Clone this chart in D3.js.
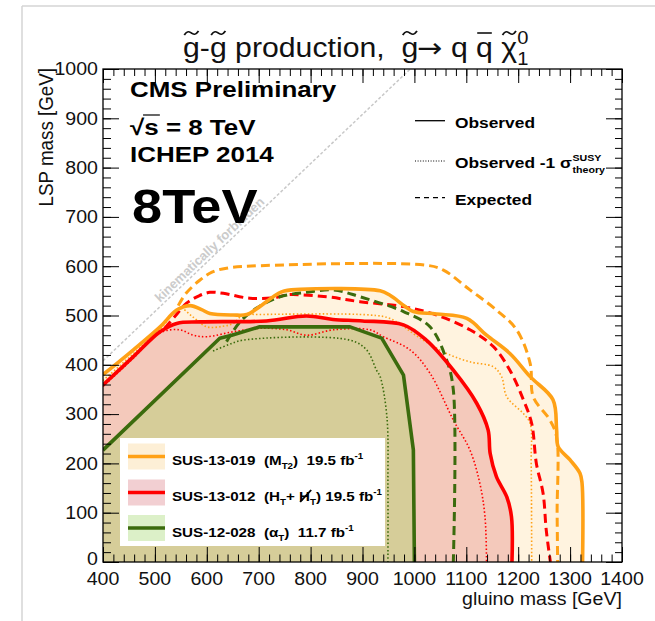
<!DOCTYPE html>
<html>
<head>
<meta charset="utf-8">
<script src="https://cdn.jsdelivr.net/npm/d3@7"></script>
<style>
  html, body { margin: 0; padding: 0; background: #fff; }
  svg { display: block; }
  text { font-family: "Liberation Sans", Arial, Helvetica, sans-serif; white-space: pre; }
</style>
</head>
<body>
<svg id="chart" width="655" height="621"></svg>
<script>
// ---- Exclusion contours (gluino mass, LSP mass) in GeV ----
// SUS-13-019 (MT2)
const mt2Observed = [[400,380],[458,430],[510,477],[542,511],[568,520],[590,512],[606,504],[651,501],[677,502],[702,518],[744,548],[780,553],[934,550],[953,541],[980,520],[998,508],[1043,503],[1101,494],[1139,460],[1184,423],[1223,376],[1267,329],[1274,268],[1277,234],[1300,207],[1319,180],[1323,160],[1324,0]];
const mt2ObservedMinus = [[400,368],[458,422],[510,472],[548,515],[572,498],[600,477],[630,478],[651,484],[670,501],[700,502],[914,501],[953,494],[1011,454],[1062,423],[1107,406],[1152,396],[1168,376],[1178,335],[1210,301],[1223,281],[1225,200],[1226,0]];
const mt2Expected = [[545,520],[560,545],[587,572],[610,588],[638,596],[702,601],[1023,602],[1056,592],[1107,552],[1158,511],[1197,471],[1223,403],[1229,335],[1261,288],[1274,254],[1275,100],[1276,0]];
// SUS-13-012 (HT + MHT)
const htObserved = [[400,359],[458,416],[510,467],[542,484],[587,487],[715,489],[792,499],[843,492],[900,489],[979,481],[1023,450],[1075,389],[1120,322],[1142,268],[1146,220],[1158,173],[1178,132],[1187,92],[1188,0]];
const htObservedMinus = [[400,356],[458,413],[510,465],[548,471],[574,460],[600,457],[651,467],[702,474],[754,471],[792,460],[844,471],[914,471],[940,457],[992,430],[1030,383],[1075,288],[1107,227],[1126,160],[1136,92],[1139,0]];
const htExpected = [[519,474],[540,500],[561,525],[585,540],[606,547],[632,545],[683,535],[735,537],[754,542],[831,538],[895,528],[979,518],[1043,501],[1107,471],[1152,437],[1184,389],[1210,329],[1226,281],[1235,200],[1248,139],[1254,65],[1262,0]];
// SUS-12-028 (alphaT)
const alphaTObserved = [[400,227],[625,454],[648,460],[702,477],[876,477],[937,454],[979,379],[998,227],[1000,0]];
const alphaTObservedMinus = [[612,428],[640,440],[670,450],[876,450],[908,430],[927,389],[934,376],[947,295],[949,150],[949,0]];
const alphaTExpected = [[638,447],[664,487],[696,515],[741,538],[792,547],[844,552],[895,538],[979,508],[1030,477],[1062,410],[1075,349],[1075,0]];
// kinematic limit
const kinematicLine = [[400,408],[992,1000]];

// ---- Axis ticks and labels ----
const xMajorTicks = [400,500,600,700,800,900,1000,1100,1200,1300,1400];
const yMajorTicks = [0,100,200,300,400,500,600,700,800,900,1000];
const xMinorTicks = d3.range(400, 1401, 20);
const yMinorTicks = d3.range(0, 1001, 20);

// ---- Legend entries ----
const analyses = ["SUS-13-019", "SUS-13-012", "SUS-12-028"];
const lumis = ["19.5", "19.5", "11.7"];
const styleNames = ["Observed", "Observed -1 \u03c3", "Expected"];

const ORANGE = "#ffa116", RED = "#ff0000", GREEN = "#3b6b0d";
const SX = 1.12;  // horizontal text stretch

const svg = d3.select("#chart");
const x = d3.scaleLinear().domain([400, 1400]).range([103, 622]);
const y = d3.scaleLinear().domain([0, 1000]).range([562, 69]);

// page border
svg.append("line").attr("x1", 22).attr("y1", 6).attr("x2", 655).attr("y2", 6).attr("stroke", "#d4d4d4").attr("stroke-width", 1.5);
svg.append("line").attr("x1", 22).attr("y1", 6).attr("x2", 22).attr("y2", 621).attr("stroke", "#d4d4d4").attr("stroke-width", 1.5);

svg.append("clipPath").attr("id", "frame").append("rect")
  .attr("x", x(400)).attr("y", y(1000)).attr("width", x(1400) - x(400)).attr("height", y(0) - y(1000));

const smooth = d3.line().x(d => x(d[0])).y(d => y(d[1])).curve(d3.curveCatmullRom.alpha(0.5));
const straight = d3.line().x(d => x(d[0])).y(d => y(d[1]));
const areaPath = (pts, gen) => gen(pts) + `L${x(400)},${y(0)}Z`;

const plot = svg.append("g").attr("clip-path", "url(#frame)");

// filled observed regions
plot.append("path").attr("d", areaPath(mt2Observed, smooth)).attr("fill", "#fff3df");
plot.append("path").attr("d", areaPath(htObserved, smooth)).attr("fill", "#f4c9bb");
plot.append("path").attr("d", areaPath(alphaTObserved, straight)).attr("fill", "#d6cd99");

// kinematic limit
plot.append("path").attr("d", straight(kinematicLine)).attr("fill", "none")
  .attr("stroke", "#c8c8c8").attr("stroke-width", 1.5).attr("stroke-dasharray", "3,2");

const curves = [
  { pts: mt2ObservedMinus, c: ORANGE, w: 1.6, dash: "1.5,2.2", gen: smooth },
  { pts: htObservedMinus, c: RED, w: 1.6, dash: "1.5,2.2", gen: smooth },
  { pts: alphaTObservedMinus, c: GREEN, w: 1.6, dash: "1.5,2.2", gen: smooth },
  { pts: mt2Expected, c: ORANGE, w: 3, dash: "9,5", gen: smooth },
  { pts: htExpected, c: RED, w: 3, dash: "9,5", gen: smooth },
  { pts: alphaTExpected, c: GREEN, w: 3, dash: "9,5", gen: smooth },
  { pts: mt2Observed, c: ORANGE, w: 3.6, dash: null, gen: smooth },
  { pts: htObserved, c: RED, w: 3.6, dash: null, gen: smooth },
  { pts: alphaTObserved, c: GREEN, w: 3.6, dash: null, gen: straight }
];
curves.forEach(s => {
  plot.append("path").attr("d", s.gen(s.pts)).attr("fill", "none")
    .attr("stroke", s.c).attr("stroke-width", s.w)
    .attr("stroke-dasharray", s.dash).attr("stroke-linejoin", "round");
});

// "kinematically forbidden" label along the diagonal
{
  const ang = Math.atan2(y(kinematicLine[0][1]) - y(kinematicLine[1][1]), x(kinematicLine[1][0]) - x(kinematicLine[0][0])) * 180 / Math.PI;
  const px = x(615), py = y(623);
  svg.append("text").attr("transform", `translate(${px},${py}) rotate(${-ang}) translate(0,-3)`)
    .attr("text-anchor", "middle").attr("font-size", 13).attr("font-weight", "bold")
    .attr("fill", "#cbcbcb").text("kinematically forbidden");
}

// ---- Bottom-left legend ----
const legendColors = [ORANGE, RED, GREEN];
const legendFills = ["#fdefd6", "#f2cfd2", "#dcf0c8"];
svg.append("rect").attr("x", 120).attr("y", 438).attr("width", 265).attr("height", 108).attr("fill", "#fff");
const rowY = [456.5, 492.5, 528];
function stretched(parent, px, py, sx = SX) {
  return parent.append("g").attr("transform", `translate(${px},${py}) scale(${sx},1)`);
}
analyses.forEach((name, i) => {
  svg.append("rect").attr("x", 128).attr("y", rowY[i] - 13).attr("width", 37).attr("height", 26).attr("fill", legendFills[i]);
  svg.append("line").attr("x1", 128).attr("x2", 165).attr("y1", rowY[i]).attr("y2", rowY[i])
    .attr("stroke", legendColors[i]).attr("stroke-width", 3.6);
  const g = stretched(svg, 172, rowY[i] + 8.5, 1.15);
  const t = g.append("text").attr("font-size", 13.2).attr("font-weight", "bold");
  t.append("tspan").text(name + "  (");
  if (i === 0) {
    t.append("tspan").text("M");
    t.append("tspan").attr("font-size", 8.5).attr("dy", 4).text("T2");
    t.append("tspan").attr("dy", -4).text(")  " + lumis[i] + " fb");
  } else if (i === 1) {
    t.append("tspan").text("H");
    t.append("tspan").attr("font-size", 8.5).attr("dy", 4).text("T");
    t.append("tspan").attr("dy", -4).text("+ ");
    t.append("tspan").text("H");
    t.append("tspan").attr("font-size", 8.5).attr("dy", 4).text("T");
    t.append("tspan").attr("dy", -4).text(") " + lumis[i] + " fb");
  } else {
    t.append("tspan").text("\u03b1");
    t.append("tspan").attr("font-size", 8.5).attr("dy", 4).text("T");
    t.append("tspan").attr("dy", -4).text(")  " + lumis[i] + " fb");
  }
  t.append("tspan").attr("font-size", 8.5).attr("dy", -6).text("-1");
  if (i === 1) {
    // slash through the missing-HT symbol
    const s = t.text();
    const idx = s.indexOf("H", s.indexOf("+"));
    const a = t.node().getStartPositionOfChar(idx), b = t.node().getEndPositionOfChar(idx);
    g.append("line").attr("x1", a.x + 1).attr("y1", a.y + 1).attr("x2", b.x + 1).attr("y2", a.y - 11)
      .attr("stroke", "#000").attr("stroke-width", 1.6);
  }
});

// ---- Axes (ticks inside the frame) ----
const axes = svg.append("g");
function tickAxis(axis, tx, ty, vals, len) {
  axes.append("g").attr("transform", `translate(${tx},${ty})`)
    .call(axis.tickValues(vals).tickSize(-len).tickFormat(""))
    .call(g => g.select(".domain").remove())
    .call(g => g.selectAll("line").attr("stroke", "#000").attr("stroke-width", 1));
}
tickAxis(d3.axisBottom(x), 0, y(0), xMinorTicks, 7.5);
tickAxis(d3.axisBottom(x), 0, y(0), xMajorTicks, 15);
tickAxis(d3.axisTop(x), 0, y(1000), xMinorTicks, 7);
tickAxis(d3.axisTop(x), 0, y(1000), xMajorTicks, 14);
tickAxis(d3.axisLeft(y), x(400), 0, yMinorTicks, 8);
tickAxis(d3.axisLeft(y), x(400), 0, yMajorTicks, 16);
tickAxis(d3.axisRight(y), x(1400), 0, yMinorTicks, 7);
tickAxis(d3.axisRight(y), x(1400), 0, yMajorTicks, 16);
svg.append("rect").attr("x", x(400)).attr("y", y(1000)).attr("width", x(1400) - x(400)).attr("height", y(0) - y(1000))
  .attr("fill", "none").attr("stroke", "#000").attr("stroke-width", 1.3);

// tick labels
xMajorTicks.forEach(v => {
  stretched(svg, x(v), 584.5).append("text").attr("text-anchor", "middle").attr("font-size", 17.5).attr("fill", "#111").text(v);
});
yMajorTicks.forEach(v => {
  const dy = v === 0 ? 3 : 6.3;
  stretched(svg, 98, y(v) + dy).append("text").attr("text-anchor", "end").attr("font-size", 17.5).attr("fill", "#111").text(v);
});

// axis titles
stretched(svg, 622, 605).append("text").attr("text-anchor", "end").attr("font-size", 17.5).attr("fill", "#111").text("gluino mass [GeV]");
svg.append("g").attr("transform", `translate(53,68) scale(${SX},1) rotate(-90)`)
  .append("text").attr("text-anchor", "end").attr("font-size", 18.8).attr("fill", "#111").text("LSP mass [GeV]");

// ---- Title ----
{
  const g = stretched(svg, 183, 57, 1.12);
  const t = g.append("text").attr("font-size", 27).attr("fill", "#111");
  t.append("tspan").text("g-g production,  g");
  t.append("tspan").attr("font-family", "DejaVu Sans").attr("dx", -1).text("\u2192");
  t.append("tspan").text(" q q \u03c7");
  const sup = t.append("tspan").attr("font-size", 18).attr("dy", -13).text("0");
  const supW = sup.node().getComputedTextLength();
  t.append("tspan").attr("font-size", 18).attr("dx", -supW).attr("dy", 21).text("1");
  const s = t.text();
  const node = t.node();
  const tilde = (i, lift) => {
    const a = node.getStartPositionOfChar(i), b = node.getEndPositionOfChar(i);
    const w = (b.x - a.x) * 0.85, cx = (a.x + b.x) / 2, ty = a.y - lift;
    g.append("path").attr("fill", "none").attr("stroke", "#111").attr("stroke-width", 1.6)
      .attr("d", `M${cx - w / 2},${ty + 2} C${cx - w / 4},${ty - 3} ${cx - w / 8},${ty - 1} ${cx},${ty} S${cx + w / 4},${ty + 3} ${cx + w / 2},${ty - 2}`);
  };
  [...s].forEach((ch, i) => {
    if (ch === "g" && s[i - 1] !== "n") tilde(i, 24);
    if (ch === "\u03c7") tilde(i, 24);
  });
  const qi = s.lastIndexOf("q");
  const qa = node.getStartPositionOfChar(qi), qb = node.getEndPositionOfChar(qi);
  g.append("line").attr("x1", qa.x + 1).attr("x2", qb.x - 1).attr("y1", qa.y - 24).attr("y2", qa.y - 24)
    .attr("stroke", "#111").attr("stroke-width", 1.6);
}

// ---- Top-left labels ----
stretched(svg, 130, 97, 1.18).append("text").attr("font-size", 22).attr("font-weight", "bold").text("CMS Preliminary");
{
  const g = stretched(svg, 130, 135, 1.18);
  const t = g.append("text").attr("font-size", 22).attr("font-weight", "bold").text("\u221as = 8 TeV");
  const a = t.node().getStartPositionOfChar(1), b = t.node().getEndPositionOfChar(1);
  g.append("line").attr("x1", a.x - 1).attr("x2", b.x + 1).attr("y1", -20).attr("y2", -20).attr("stroke", "#000").attr("stroke-width", 1.2);
}
stretched(svg, 130, 161.7, 1.18).append("text").attr("font-size", 22).attr("font-weight", "bold").text("ICHEP 2014");
stretched(svg, 132, 223, 1.13).append("text").attr("font-size", 48).attr("font-weight", "bold").text("8TeV");

// ---- Top-right line-style legend ----
const styleY = [120.7, 161, 197.7];
const styleDash = [null, "1,1.6", "5,4"];
styleNames.forEach((name, i) => {
  svg.append("line").attr("x1", 415).attr("x2", 445).attr("y1", styleY[i]).attr("y2", styleY[i])
    .attr("stroke", "#000").attr("stroke-width", i === 1 ? 1 : 1.3).attr("stroke-dasharray", styleDash[i]);
  const g = stretched(svg, 455, styleY[i] + 7);
  const t = g.append("text").attr("font-size", 15.5).attr("font-weight", "bold").text(name);
  if (i === 1) {
    const w = t.node().getComputedTextLength() + 0.5;
    g.append("text").attr("x", w).attr("y", -7).attr("font-size", 9.5).attr("font-weight", "bold").text("SUSY");
    g.append("text").attr("x", w).attr("y", 5).attr("font-size", 9.5).attr("font-weight", "bold").text("theory");
  }
});
</script>
</body>
</html>
